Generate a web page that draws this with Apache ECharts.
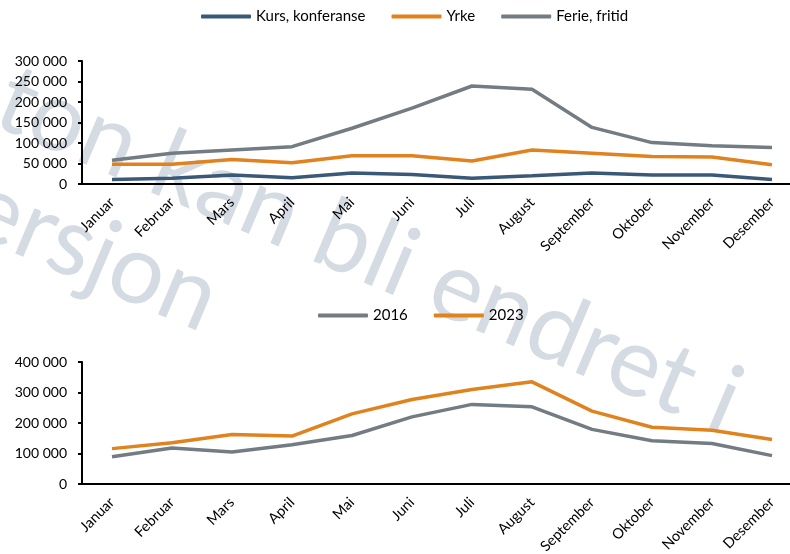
<!DOCTYPE html>
<html lang="no">
<head>
    <meta charset="UTF-8">
    <title>Overnattinger etter formål</title>
    <script src="https://cdn.jsdelivr.net/npm/echarts@6/dist/echarts.min.js"></script>
    <style>
        html, body { margin: 0; padding: 0; background: #fff; }
        #main { width: 790px; height: 554px; }
    </style>
</head>
<body>
<div id="main"></div>
<script type="text/javascript">

    var months = ['Januar', 'Februar', 'Mars', 'April', 'Mai', 'Juni', 'Juli', 'August', 'September', 'Oktober', 'November', 'Desember']

    // øvre figur - etter formål
    var kurs = [11000, 14000, 22000, 15000, 27000, 23000, 14000, 20000, 27000, 22000, 22000, 11000]
    var yrke = [48000, 48000, 60000, 52000, 69000, 69000, 56000, 83000, 75000, 67000, 66000, 47000]
    var ferie = [58000, 75000, 83000, 91000, 136000, 185000, 239000, 231000, 138000, 101000, 93000, 89000]

    // nedre figur - totalt
    var y2016 = [89000, 118000, 105000, 129000, 159000, 220000, 261000, 253000, 179000, 142000, 133000, 93000]
    var y2023 = [116000, 135000, 162000, 157000, 230000, 277000, 310000, 335000, 239000, 186000, 176000, 146000]

    var blue = '#3a5877'
    var orange = '#e0821e'
    var grey = '#737b83'
    var font = 'Lato'

    function fmt(v) {
        return String(v).replace(/\B(?=(\d{3})+(?!\d))/g, ' ')
    }

    function xAx(idx) {
        return {
            type: 'category', gridIndex: idx, data: months, boundaryGap: true,
            axisLine: { lineStyle: { color: '#000', width: 2 } },
            axisTick: { show: false },
            axisLabel: { rotate: 45, margin: 16, fontSize: 14.5, fontFamily: font, color: '#000', interval: 0 }
        }
    }

    function yAx(idx, max, step) {
        return {
            type: 'value', gridIndex: idx, min: 0, max: max, interval: step,
            axisLine: { show: true, lineStyle: { color: '#000', width: 2 } },
            axisTick: { show: true, length: 4, lineStyle: { color: '#000', width: 2 } },
            splitLine: { show: false },
            axisLabel: { margin: 15, fontSize: 14, fontFamily: font, color: '#000', formatter: fmt }
        }
    }

    function line(name, data, color, x) {
        return {
            name: name, type: 'line', data: data, xAxisIndex: x, yAxisIndex: x,
            symbol: 'none', lineStyle: { color: color, width: 3.5 }, itemStyle: { color: color }
        }
    }

    var legendText = { fontSize: 15, fontFamily: font, color: '#000' }
    var wmStyle = { font: '97px Lato', fill: '#d5dbe3', textAlign: 'left', textVerticalAlign: 'middle' }
    var rot = -23 * Math.PI / 180

    var myChart = echarts.init(document.getElementById('main'))

    var option = {
        animation: false,
        graphic: [
            { type: 'text', x: 2, y: 95, rotation: rot, z: -10, silent: true,
              style: Object.assign({ text: 'ton kan bli endret i' }, wmStyle) },
            { type: 'text', x: -26, y: 202, rotation: rot, z: -10, silent: true,
              style: Object.assign({ text: 'ersjon' }, wmStyle) }
        ],
        legend: [
            { data: ['Kurs, konferanse', 'Yrke', 'Ferie, fritid'], left: 196, top: 4,
              icon: 'roundRect', itemWidth: 50, itemHeight: 4, itemGap: 26, textStyle: legendText },
            { data: ['2016', '2023'], left: 313, top: 303,
              icon: 'roundRect', itemWidth: 50, itemHeight: 4, itemGap: 26, textStyle: legendText }
        ],
        grid: [
            { left: 82, top: 61, width: 720, height: 123, outerBoundsMode: 'none' },
            { left: 82, top: 362, width: 720, height: 122, outerBoundsMode: 'none' }
        ],
        xAxis: [xAx(0), xAx(1)],
        yAxis: [yAx(0, 300000, 50000), yAx(1, 400000, 100000)],
        series: [
            line('Kurs, konferanse', kurs, blue, 0),
            line('Yrke', yrke, orange, 0),
            line('Ferie, fritid', ferie, grey, 0),
            line('2016', y2016, grey, 1),
            line('2023', y2023, orange, 1)
        ]
    }

    myChart.setOption(option)

</script>
</body>
</html>
